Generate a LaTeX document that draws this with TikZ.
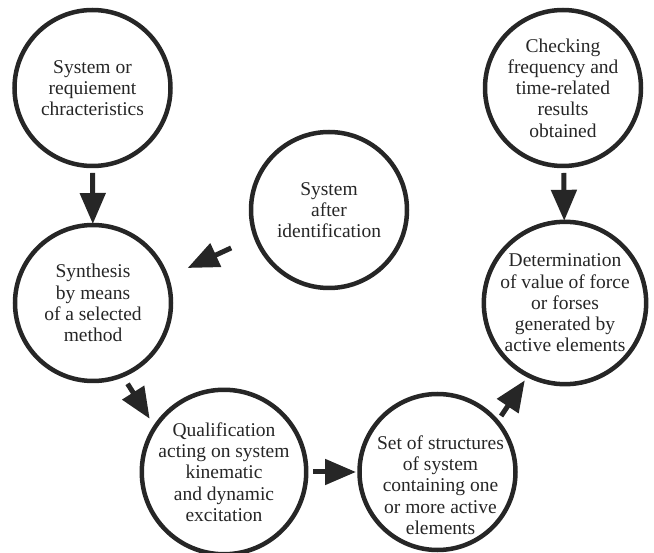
\documentclass[tikz,border=0pt]{standalone}
\usepackage{fontspec}
\setmainfont{Liberation Serif}
\usetikzlibrary{arrows.meta}
\definecolor{ink}{HTML}{262626}
\begin{document}
\begin{tikzpicture}[x=1pt,y=-1pt,
  circ/.style={circle,draw=ink,line width=4.5pt,minimum size=156pt,inner sep=0pt,outer sep=0pt,
    align=center,text=ink,font=\fontsize{19.5pt}{21.3pt}\selectfont},
  txt/.style={align=center,text=ink,font=\fontsize{19.5pt}{21.3pt}\selectfont,inner sep=0pt},
  arr/.style={draw=ink,line width=5pt,-{Triangle[length=31pt,width=25pt]}}]
\useasboundingbox (0,0) rectangle (654,553);
\node[circ] (c1) at (92.5,88) {System or\\requiement\\chracteristics};
\node[circ] (c2) at (329,210) {System\\after\\identification};
\node[circ] (c3) at (563,88) {Checking\\frequency and\\time-related\\results\\obtained};
\node[circ] (c4) at (93,303) {Synthesis\\by means\\of a selected\\method};
\node[circ] (c5) at (224,472) {Qualification\\acting on system\\kinematic\\and dynamic\\excitation};
\node[circ,label={[txt,xshift=3pt,yshift=-13pt]center:Set of structures\\of system\\containing one\\or more active\\elements}] (c6) at (437.5,472) {};
\node[circ] (c7) at (565,303) {Determination\\of value of force\\or forses\\generated by\\active elements};
\draw[arr,shorten <=7pt,shorten >=1pt] (c1) -- (c4);
\draw[arr,shorten <=7pt,shorten >=1pt] (c3) -- (c7);
\draw[arr,shorten <=27pt,shorten >=23pt] (c2.200) -- (c4.19);
\draw[arr,shorten <=10pt,shorten >=10pt] (c4.-68) -- (c5.147);
\draw[arr,shorten <=7pt,shorten >=3.5pt] (c5) -- (c6);
\draw[arr,shorten <=7pt,shorten >=6pt] (c6.40) -- (c7.-117);
\end{tikzpicture}
\end{document}
